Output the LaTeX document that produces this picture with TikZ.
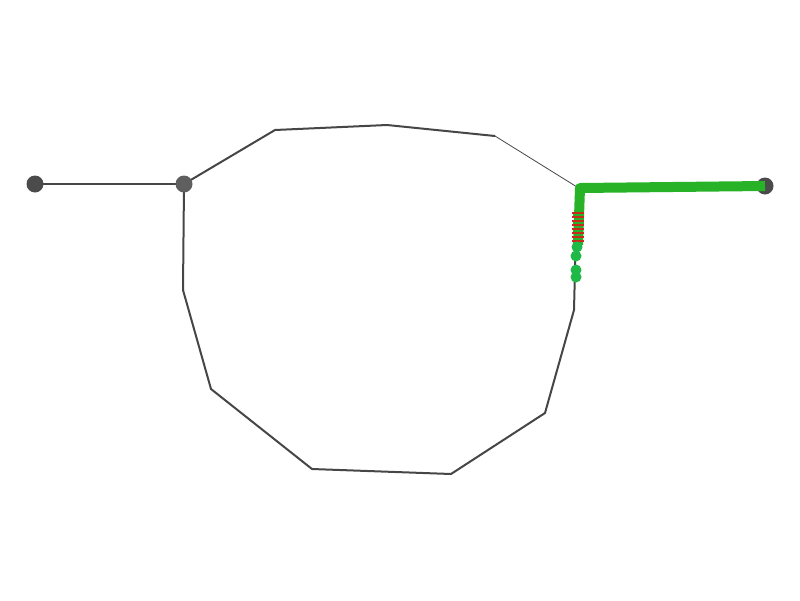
\documentclass[tikz,border=0pt]{standalone}
\definecolor{edgegray}{RGB}{70,70,70}
\definecolor{dotdark}{RGB}{75,75,75}
\definecolor{dotmid}{RGB}{95,95,95}
\definecolor{pathgreen}{RGB}{40,178,40}
\definecolor{dotgreen}{RGB}{30,185,70}
\definecolor{stripered}{RGB}{200,40,30}
\begin{document}
\begin{tikzpicture}[x=1pt,y=-1pt,
  edge/.style={draw=edgegray,line width=2pt,line join=round},
  thinedge/.style={draw=edgegray,line width=0.8pt},
  dot/.style={circle,fill=dotdark,minimum size=17pt,inner sep=0pt},
  dotm/.style={circle,fill=dotmid,minimum size=17pt,inner sep=0pt},
  gdot/.style={circle,fill=dotgreen,minimum size=11pt,inner sep=0pt},
  gpath/.style={draw=pathgreen,line width=10pt,line join=round},
  stripe/.style={draw=stripered,line width=1.6pt}]
\useasboundingbox (0,0) rectangle (800,600);
% polygon vertices
\coordinate (p1) at (184,184);
\coordinate (p2) at (275,130);
\coordinate (p3) at (387,125);
\coordinate (p4) at (495,136);
\coordinate (p5) at (577,187);
\coordinate (p6) at (574,310);
\coordinate (p7) at (545,413);
\coordinate (p8) at (451,474);
\coordinate (p9) at (312,469);
\coordinate (p10) at (211,389);
\coordinate (p11) at (183,290);
\coordinate (a) at (35,184);
\coordinate (b) at (765,186);
\coordinate (gc) at (580,188);
\coordinate (gd) at (578,245);
% edges
\draw[edge] (p4) -- (p3) -- (p2) -- (p1) -- (p11) -- (p10) -- (p9) -- (p8) -- (p7) -- (p6) -- (p5);
\draw[thinedge] (p4) -- (p5);
\draw[edge] (a) -- (p1);
% dots
\node[dot] (na) at (a) {};
\node[dotm] (np1) at (p1) {};
\node[dot] (nb) at (b) {};
% green path
\draw[gpath] (b) -- (gc) -- (gd);
\foreach \yy in {213,217,221,225,229,233,237,241}
  \draw[stripe] (572,\yy) -- (584,\yy);
\foreach \yy in {215,223,231,239}
  \draw[draw=pathgreen,line width=1.5pt] (573,\yy) -- (583,\yy);
\node[gdot] (g1) at (577,247) {};
\node[gdot] (g2) at (576,256) {};
\node[gdot] (g3) at (576,270) {};
\node[gdot] (g4) at (576,277) {};
\end{tikzpicture}
\end{document}
